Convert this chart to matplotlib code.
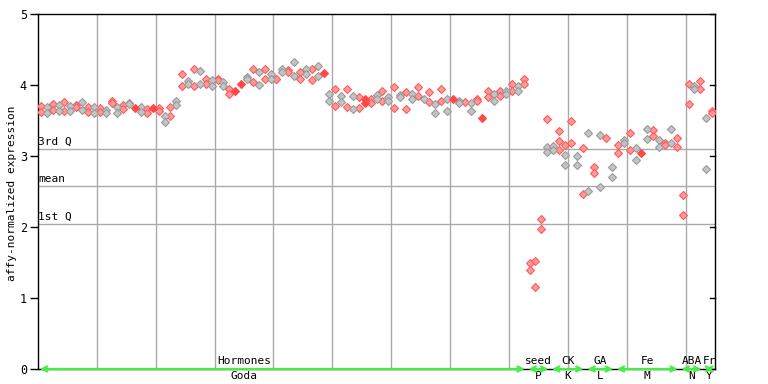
import numpy as np
import matplotlib
matplotlib.use('Agg')
import matplotlib.pyplot as plt
from matplotlib.transforms import blended_transform_factory

# %%
# two replicate values per sample (NaN = single point)
nan = np.nan
goda_a = [3.70, 3.69, 3.73, 3.72, 3.76, 3.70, 3.72, 3.76, 3.69, 3.69,
          3.67, 3.65, 3.77, 3.69, 3.72, 3.75, 3.67, 3.69, 3.66, 3.67,
          3.68, 3.56, 3.69, 3.77, 4.15, 4.06, 4.23, 4.20, 4.08, 4.07,
          4.09, 4.04, 3.95, 3.92, 4.02, 4.11, 4.22, 4.18, 4.23, 4.16,
          4.09, 4.22, 4.21, 4.32, 4.18, 4.22, 4.23, 4.27, 4.17, 3.87,
          3.95, 3.85, 3.94, 3.84, 3.83, 3.80, 3.80, 3.86, 3.91, 3.83,
          3.97, 3.86, 3.90, 3.88, 3.97, 3.80, 3.90, 3.73, 3.94, 3.80,
          3.80, 3.77, 3.76, 3.74, 3.80, 3.54, 3.92, 3.87, 3.91, 3.91,
          4.01, 3.98, 4.08]
goda_b = [3.62, 3.61, 3.65, 3.63, 3.63, 3.64, 3.69, 3.65, 3.62, 3.60,
          3.62, 3.60, 3.74, 3.61, 3.66, 3.73, nan, 3.62, 3.60, nan,
          3.63, 3.48, 3.57, 3.72, 3.98, 4.01, 3.99, 4.01, 4.01, 3.99,
          4.07, 3.99, 3.88, nan, nan, 4.08, 4.04, 4.00, 4.09, 4.09,
          4.08, 4.19, 4.18, 4.13, 4.09, 4.15, 4.07, 4.13, nan, 3.78,
          3.70, 3.76, 3.69, 3.66, 3.67, 3.75, 3.74, 3.80, 3.77, 3.77,
          3.67, 3.83, 3.66, 3.80, 3.84, nan, 3.76, 3.60, 3.78, 3.63,
          nan, 3.74, nan, 3.64, 3.77, nan, 3.83, 3.77, 3.84, 3.88,
          3.91, 3.92, 4.02]
seed_a = [1.50, 1.52, 2.11, 3.13]
seed_b = [1.40, 1.15, 1.97, 3.05]
ck_a = [3.14, 3.21, 3.01, 3.49, 3.00, 3.11]
ck_b = [3.09, 3.08, 2.88, 3.18, 2.87, 2.46]
ga_a = [3.32, 2.84, 3.29, 3.25, 2.85]
ga_b = [2.51, 2.76, 2.57, nan, 2.71]
fe_a = [3.16, 3.23, 3.32, 3.11, 3.04, 3.38, 3.37, 3.22, 3.19, 3.38, 3.25]
fe_b = [3.04, 3.18, 3.09, 2.95, nan, 3.24, 3.28, 3.12, 3.16, 3.18, 3.12]
aba_a = [2.45, 4.01, 3.99, 4.06]
aba_b = [2.17, 3.73, 3.95, 3.95]
fr_a = [3.53, 3.63]
fr_b = [2.81, 3.60]
# a few samples show a third point
extra_idx = [86, 88, 89]
extra_val = [3.52, 3.35, 3.16]

# colour of each sample's replicates: r = red, g = grey, s = solid red
goda_col = ('rgrgrgrgrg' 'rgrgrgsgrs' 'rgrgrgrgrg' 'rgrssgrgrg'
            'rgrgrgrgsg' 'rgrgrsrgrg' 'rgrgrgrgrg' 'sgrgrsrgrg' 'rgr')
rest_col = ('rrrg' 'grgrgr' 'grgrg' 'rgrgsgrgrgr' 'rrgr' 'gr')

groups = ['Goda', 'P', 'K', 'L', 'M', 'N', 'Y']
group_top = ['Hormones', 'seed', 'CK', 'GA', 'Fe', 'ABA', 'Fr']

stat_names = ['3rd Q', 'mean', '1st Q']
stat_vals = [3.10, 2.58, 2.04]

# %%
sections = [(goda_a, goda_b), (seed_a, seed_b), (ck_a, ck_b), (ga_a, ga_b),
            (fe_a, fe_b), (aba_a, aba_b), (fr_a, fr_b)]
rep_a = np.concatenate([np.array(a, float) for a, _ in sections])
rep_b = np.concatenate([np.array(b, float) for _, b in sections])
cols = np.array(list(goda_col + rest_col))
idx = np.arange(len(rep_a))

sizes = [len(a) for a, _ in sections]
starts = np.cumsum([0] + sizes[:-1])
ends = starts + np.array(sizes) - 1

mono = 'DejaVu Sans Mono'
plt.rcParams['font.family'] = mono
plt.rcParams['font.size'] = 8

fig = plt.figure(figsize=(7.68, 3.84), dpi=100)
ax = fig.add_axes([38 / 768, 15 / 384, 677 / 768, 355 / 384])
n = len(rep_a)
ax.set_xlim(-0.5, n - 0.5)
ax.set_ylim(0, 5)

for gx in np.arange(9.5, n, 10):
    ax.axvline(gx, color='#aaaaaa', lw=1, zorder=1)
for name, v in zip(stat_names, stat_vals):
    ax.axhline(v, color='#aaaaaa', lw=1, zorder=1)
    ax.text(-0.45, v + 0.03, name, fontsize=8, va='bottom', ha='left',
            zorder=2)

styles = {
    'r': dict(mfc='#ff9a9a', mec='#ff5a5a'),
    'g': dict(mfc='#c4c4c4', mec='#9a9a9a'),
    's': dict(mfc='#ff4848', mec='#ff4848'),
}
for c, st in styles.items():
    m = cols == c
    for rep in (rep_a, rep_b):
        ax.plot(idx[m], rep[m], 'D', ms=3.7, mew=0.8, zorder=3, **st)
ax.plot(extra_idx, extra_val, 'D', ms=3.7, mew=0.8, zorder=3, **styles['r'])

ax.set_xticks([])
ax.set_yticks(range(6))
ax.tick_params(axis='y', direction='out', length=6, width=1, pad=2,
               labelsize=8.5)
for sp in ax.spines.values():
    sp.set_linewidth(1)

# right side inner ticks
for v in range(6):
    ax.plot([n - 0.5 - 0.9, n - 0.5], [v, v], color='black', lw=1,
            clip_on=False, zorder=4)

fig.text(12 / 768, 1 - 193 / 384, 'affy-normalized expression',
         rotation=90, va='center', ha='center', fontsize=8)

# group arrows and labels along the x axis
tr = blended_transform_factory(ax.transData, ax.transAxes)
for g, top, s, e in zip(groups, group_top, starts, ends):
    ax.annotate('', xy=(e + 0.2, 0), xytext=(s - 0.2, 0),
                xycoords='data', textcoords='data',
                arrowprops=dict(arrowstyle='<->', color='#44ee44', lw=1.6,
                                shrinkA=0, shrinkB=0, mutation_scale=9),
                annotation_clip=False, zorder=5)
    cx = 34.5 if g == 'Goda' else (s + e) / 2
    ax.text(cx, 0.008, top, transform=tr, ha='center', va='bottom',
            fontsize=8, clip_on=False)
    ax.text(cx, -0.006, g, transform=tr, ha='center', va='top',
            fontsize=8, clip_on=False)

fig.savefig('out.png', dpi=100)
